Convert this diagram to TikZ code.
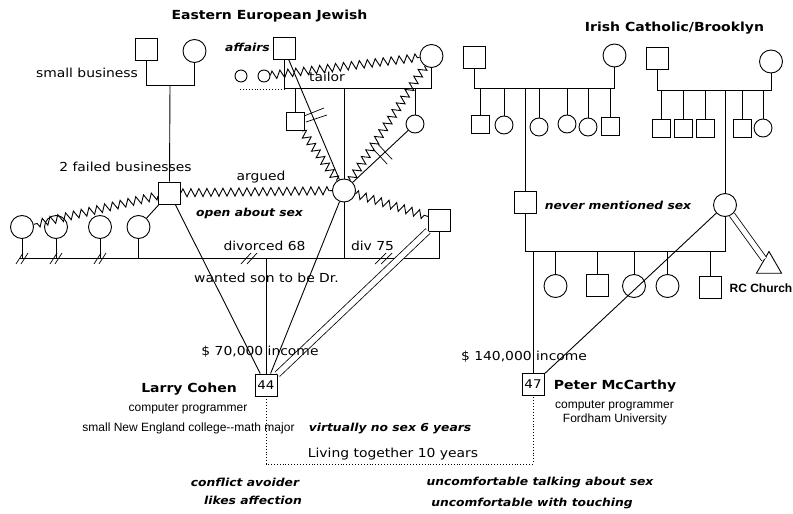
\documentclass[tikz,border=0pt]{standalone}
\usepackage{fontspec}
\setmainfont{DejaVu Sans}
\newfontfamily\lab[FakeStretch=1.12]{DejaVu Sans}
\newfontfamily\helv{Liberation Sans}
\usetikzlibrary{decorations.pathmorphing,calc,shapes.geometric}
\begin{document}
\begin{tikzpicture}[x=1pt,y=-1pt,line width=0.9pt,
  sq/.style={draw,minimum size=22pt,inner sep=0pt,font=\lab\fontsize{12}{14}\selectfont},
  ssq/.style={draw,minimum size=18pt,inner sep=0pt},
  ci/.style={draw,circle,minimum size=23pt,inner sep=0pt},
  sci/.style={draw,circle,minimum size=18pt,inner sep=0pt},
  tci/.style={draw,circle,minimum size=12pt,inner sep=0pt},
  zz/.style={decorate,decoration={zigzag,segment length=8pt,amplitude=4pt}},
  lb/.style={font=\lab\fontsize{12.4}{14}\selectfont,inner sep=0pt},
  itl/.style={font=\lab\bfseries\itshape\fontsize{11}{13}\selectfont,inner sep=0pt},
  ttl/.style={font=\lab\bfseries\fontsize{12.5}{14}\selectfont,inner sep=0pt},
  hv/.style={font=\helv\fontsize{12}{14}\selectfont,inner sep=0pt},
  hvb/.style={font=\helv\bfseries\fontsize{12}{14}\selectfont,inner sep=0pt}]
\useasboundingbox (0,0) rectangle (793,514);

% ---------- titles ----------
\node[ttl] (t1) at (269.5,16) {Eastern European Jewish};
\node[ttl] (t2) at (674.5,28) {Irish Catholic/Brooklyn};

% ---------- paternal (Cohen) side ----------
\node[sq] (pgf) at (146,49) {};
\node[ci] (pgm) at (194.5,51) {};
\coordinate (pgl) at (170,85);
\draw (pgf.south) -- (pgf.south |- pgl) -- (pgm.south |- pgl) -- (pgm.south);
\node[sq] (fa) at (169.5,193) {};
\draw (pgl) -- (fa.north);
\node[lb] (lsb) at (87,73) {small business};
\node[lb] (lfb) at (125.5,167) {2 failed businesses};

\node[ci] (c1) at (22,227) {};
\node[ci] (c2) at (56,227) {};
\node[ci] (c3) at (100,227) {};
\node[ci] (c4) at (138.5,227) {};
\coordinate (lb0) at (20,258);
\coordinate (fm) at (170,258);
\draw (lb0) -- (fm);
\foreach \c in {c1,c2,c3,c4} \draw (\c.south) -- (\c.south |- lb0);
\foreach \xx in {22,56,100} {
  \draw[line width=0.7pt] (\xx-6,264) -- (\xx+1,253);
  \draw[line width=0.7pt] (\xx-1,264) -- (\xx+6,253);
}
\draw[zz] (fa) -- (c1);
\draw (c4) -- (fa);

% ---------- maternal (Jewish) side ----------
\node[sq] (mgf) at (284,48.5) {};
\node[ci] (mgm) at (431.5,56) {};
\coordinate (mgl) at (344,88);
\draw (mgf.south) -- (mgf.south |- mgl) -- (mgm.south |- mgl) -- (mgm.south);
\node[itl] (laf) at (247.5,47) {affairs};
\node[tci] (s1) at (241,76) {};
\node[tci] (s2) at (264,76) {};
\coordinate (dl) at (240,89);
\draw[dotted] (dl) -- (mgf.south |- dl);
\draw[zz] (s2) -- (mgm);
\node[lb] (ltl) at (327,77) {tailor};

\node[ssq] (un) at (295.5,121.5) {};
\node[sci] (au) at (415,124) {};
\node[ci] (mo) at (344,190.5) {};
\draw (un.north |- mgl) -- (un.north);
\draw (mo.north |- mgl) -- (mo.north);
\draw (au.north |- mgl) -- (au.north);
\draw (mgf) -- (mo);
\draw[line width=0.7pt] (304,116) -- (324,108);
\draw[line width=0.7pt] (306,122) -- (327,115);
\draw[zz] (un) -- (mo);
\draw[zz] (mo) -- (mgm);
\draw (au) -- (mo);
\draw[line width=0.7pt] ($(au)!0.42!(mo)+(-7,-7.5)$) -- ($(au)!0.42!(mo)+(7,7.5)$);
\draw[line width=0.7pt] ($(au)!0.49!(mo)+(-7,-7.5)$) -- ($(au)!0.49!(mo)+(7,7.5)$);

% ---------- parents ----------
\draw[zz] (fa) -- (mo);
\node[lb] (larg) at (261,177) {argued};
\node[itl] (lopen) at (249.5,213) {open about sex};
\node[sq] (sf) at (439.5,220) {};
\draw[zz] (mo) -- (sf);
\coordinate (mm) at (344,258);
\draw (fm) -- (mm);
\draw (mo.south) -- (mm) -- (sf.south |- mm) -- (sf.south);
\draw[line width=0.7pt] (241,264) -- (251,253);
\draw[line width=0.7pt] (247,264) -- (257,253);
\draw[line width=0.7pt] (375,264) -- (386,253);
\draw[line width=0.7pt] (381,264) -- (392,253);
\node[lb] (ldiv) at (264.5,246) {divorced 68};
\node[lb] (ldiv2) at (372.5,246) {div 75};
\node[lb] (lwant) at (266.5,278) {wanted son to be Dr.};

% ---------- Larry ----------
\node[sq] (la) at (266,385) {44};
\coordinate (lc) at (266,258);
\draw (lc) -- (la.north);
\draw (fa) -- (la);
\draw (mo) -- (la);
\draw[double,double distance=5.5pt,line width=0.8pt] (sf) -- (la);
\node[lb] (linc) at (260,352) {\$ 70,000 income};
\node[ttl] (lname) at (189,389) {Larry Cohen};
\node[hv] (ljob) at (188,409) {computer programmer};
\node[hv] (ledu) at (188.5,428) {small New England college--math major};

% ---------- Irish side ----------
\node[sq] (ig1) at (474,57.5) {};
\node[ci] (ig2) at (614.5,55.5) {};
\coordinate (il) at (526,88);
\draw (ig1.south) -- (ig1.south |- il) -- (ig2.south |- il) -- (ig2.south);
\node[ssq] (a1) at (480,124) {};
\node[sci] (a2) at (504,125) {};
\node[sci] (a3) at (539,127) {};
\node[sci] (a4) at (567,124) {};
\node[sci] (a5) at (588,127) {};
\node[ssq] (a6) at (610,126) {};
\foreach \c in {a1,a2,a3,a4,a5,a6} \draw (\c.north |- il) -- (\c.north);
\node[sq] (pf) at (525.5,202) {};
\draw (pf.north |- il) -- (pf.north);
\node[itl] (lnev) at (618,205) {never mentioned sex};

\node[sq] (ig3) at (657,58.5) {};
\node[ci] (ig4) at (771,61.5) {};
\coordinate (il2) at (726,90);
\draw (ig3.south) -- (ig3.south |- il2) -- (ig4.south |- il2) -- (ig4.south);
\node[ssq] (b1) at (661,128) {};
\node[ssq] (b2) at (683,128) {};
\node[ssq] (b3) at (705,128) {};
\node[ssq] (b4) at (742,128) {};
\node[sci] (b5) at (763,128) {};
\foreach \c in {b1,b2,b3,b4,b5} \draw (\c.north |- il2) -- (\c.north);
\node[ci] (pm) at (725,205) {};
\draw (pm.north |- il2) -- (pm.north);

\coordinate (pl) at (534,251);
\draw (pf.south) -- (pf.south |- pl) -- (pm.south |- pl) -- (pm.south);
\node[ci] (d1) at (555.5,286) {};
\node[sq] (d2) at (597,285.5) {};
\node[ci] (d3) at (634,286) {};
\node[ci] (d4) at (667.5,286) {};
\node[sq] (d5) at (710.5,287.5) {};
\foreach \c in {d1,d2,d3,d4,d5} \draw (\c.north |- pl) -- (\c.north);
\node[draw,regular polygon,regular polygon sides=3,minimum size=29pt,inner sep=0pt] (rc) at (769,266) {};
\draw[double,double distance=5pt,line width=0.8pt] (pm) -- (rc);
\node[hvb] (lrc) at (761,288) {RC Church};

% ---------- Peter ----------
\node[sq] (pe) at (533,384.5) {47};
\draw (pe.north |- pl) -- (pe.north);
\draw (pm) -- (pe);
\node[lb] (pinc) at (524,357) {\$ 140,000 income};
\node[ttl] (pname) at (615,386) {Peter McCarthy};
\node[hv] (pjob) at (614.5,406) {computer programmer};
\node[hv] (pedu) at (615,419) {Fordham University};

% ---------- relationship ----------
\coordinate (dlb) at (266,464);
\draw[dotted] (la.south) -- (la.south |- dlb) -- (pe.south |- dlb) -- (pe.south);
\node[itl] (lvir) at (390,429) {virtually no sex 6 years};
\node[lb] (lliv) at (393,454) {Living together 10 years};
\node[itl] (lcon) at (245,482) {conflict avoider};
\node[itl] (llik) at (253,500) {likes affection};
\node[itl] (lunc1) at (540,483) {uncomfortable talking about sex};
\node[itl] (lunc2) at (532,504) {uncomfortable with touching};
\end{tikzpicture}
\end{document}
